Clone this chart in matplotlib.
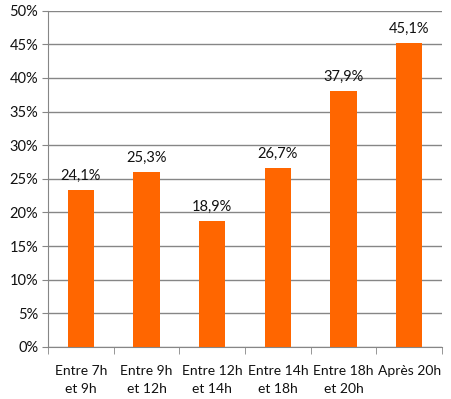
import numpy as np
import matplotlib.pyplot as plt
from matplotlib.ticker import FixedLocator, PercentFormatter

categories = ["Entre 7h\net 9h", "Entre 9h\net 12h", "Entre 12h\net 14h",
              "Entre 14h\net 18h", "Entre 18h\net 20h", "Après 20h"]
# bar heights as drawn
bar_values = [23.4, 26.0, 18.8, 26.6, 38.1, 45.2]
# data labels as printed
label_texts = ["24,1%", "25,3%", "18,9%", "26,7%", "37,9%", "45,1%"]
y_ticks = list(range(0, 55, 5))

plt.rcParams['font.family'] = ['Lato', 'DejaVu Sans']

fig = plt.figure(figsize=(4.51, 3.99), dpi=100)
ax = fig.add_axes([48 / 451, 1 - 347 / 399, 394 / 451, 336.3 / 399])

x = np.arange(len(categories))
bars = ax.bar(x, bar_values, width=0.4, color="#FF6600", zorder=3)

for rect, txt in zip(bars, label_texts):
    ax.annotate(txt, (rect.get_x() + rect.get_width() / 2, rect.get_height()),
                xytext=(0, 5), textcoords="offset points",
                ha="center", va="bottom", fontsize=10.5, color="#111111")

ax.set_xlim(-0.5, len(categories) - 0.5)
ax.set_ylim(0, 50)
ax.set_yticks(y_ticks)
ax.yaxis.set_major_formatter(PercentFormatter(decimals=0))
ax.grid(axis="y", color="#868686", linewidth=1, zorder=0)

ax.set_xticks(x)
ax.set_xticklabels(categories, fontsize=10, color="#111111", linespacing=1.55)
ax.xaxis.set_minor_locator(FixedLocator(np.arange(-0.5, len(categories), 1.0)))
ax.tick_params(axis="x", which="major", length=0, pad=13)
ax.tick_params(axis="x", which="minor", length=5, color="#868686")
ax.tick_params(axis="y", length=4, color="#868686", labelsize=10.5,
               labelcolor="#111111", pad=3)

for side in ["top", "right"]:
    ax.spines[side].set_visible(False)
for side in ["left", "bottom"]:
    ax.spines[side].set_color("#868686")

fig.savefig("out.png", dpi=100)
